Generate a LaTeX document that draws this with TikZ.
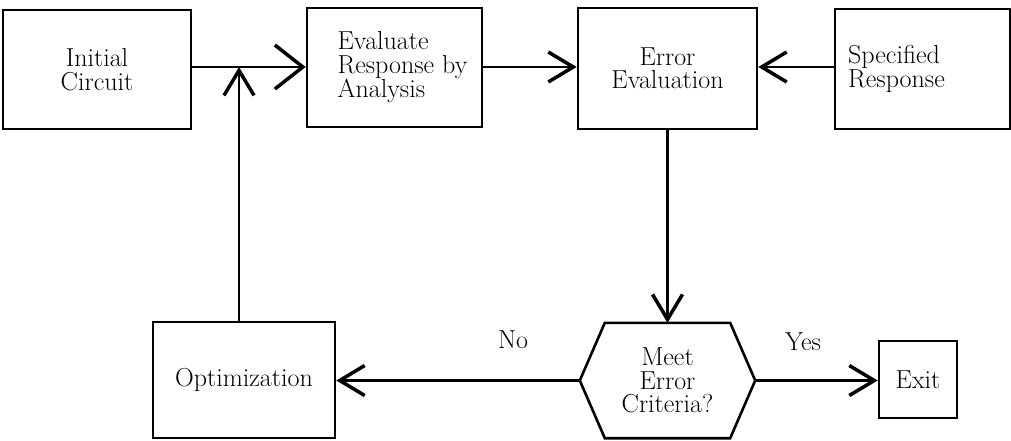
\documentclass[tikz,border=0pt]{standalone}
\usetikzlibrary{arrows.meta}
\begin{document}
\begin{tikzpicture}[x=1pt,y=-1pt,
  every node/.style={font=\fontsize{26}{23.5}\selectfont, inner sep=0pt},
  box/.style={draw, line width=2.6pt, align=center},
  line/.style={line width=2.4pt},
  arr/.style={line, -{Straight Barb[length=25pt,width=30pt,line width=3.5pt]}},
  bigarr/.style={line, -{Straight Barb[length=28pt,width=44pt,line width=3.5pt]}},
  lbl/.style={anchor=base}]
\useasboundingbox (0,0) rectangle (1011,441);
% boxes
\node[box, minimum width=188pt, minimum height=119pt] (init) at (97,69.5) {Initial\\Circuit};
\node[box, minimum width=175pt, minimum height=119pt, align=left] (eval) at (394.5,67.5) {\hspace*{16pt}Evaluate\\\hspace*{16pt}Response by\\\hspace*{16pt}Analysis};
\node[box, minimum width=179pt, minimum height=121pt] (err) at (667.5,68.5) {Error\\Evaluation};
\node[box, minimum width=175pt, minimum height=120pt, align=left] (spec) at (922.5,69) {Specified\\Response\hspace*{52pt}};
\node[box, minimum width=182pt, minimum height=116pt] (opt) at (244,380) {Optimization};
\node[box, minimum width=78pt, minimum height=77pt] (exit) at (918,379.5) {Exit};
% decision hexagon
\node[minimum width=175pt, minimum height=115pt, align=center] (dec) at (667.5,380.5) {Meet\\Error\\Criteria?};
\draw[line width=2.6pt, line join=miter] (dec.west) -- ([xshift=25pt]dec.north west) -- ([xshift=-25pt]dec.north east)
  -- (dec.east) -- ([xshift=-25pt]dec.south east) -- ([xshift=25pt]dec.south west) -- cycle;
% junction
\coordinate (j) at (239,67);
% connectors
\draw[line] (init.east |- j) -- (j);
\draw[bigarr] (j) -- (eval.west |- j);
\draw[arr] (opt.north -| j) -- (j);
\draw[arr] (eval.east |- j) -- (err.west |- j);
\draw[arr] (spec.west |- j) -- (err.east |- j);
\draw[arr] (err.south) -- (dec.north);
\draw[arr] (dec.west) -- (opt.east |- dec.west);
\draw[arr] (dec.east) -- (exit.west |- dec.east);
% labels
\node[lbl] (no) at (513,348) {No};
\node[lbl] (yes) at (803,350) {Yes};
\end{tikzpicture}
\end{document}
